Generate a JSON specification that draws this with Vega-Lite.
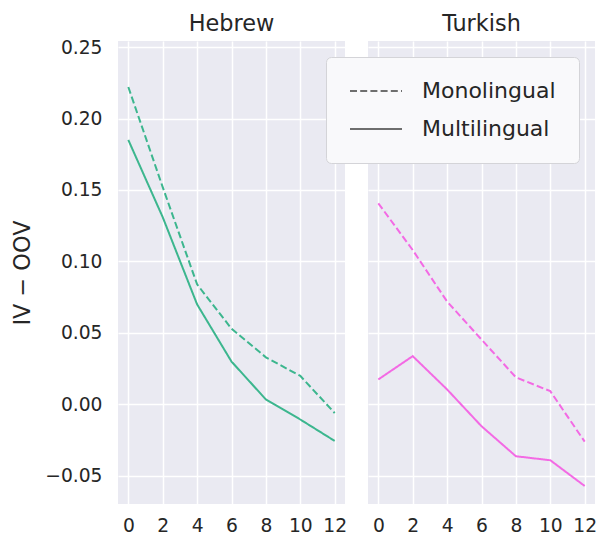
{
  "$schema": "https://vega.github.io/schema/vega-lite/v6.json",
  "padding": {"left": 11, "top": 12, "right": 2, "bottom": 5},
  "data": {"values": [
    {"lang": "Hebrew", "model": "Monolingual", "step": 0, "v": 0.222},
    {"lang": "Hebrew", "model": "Monolingual", "step": 2, "v": 0.152},
    {"lang": "Hebrew", "model": "Monolingual", "step": 4, "v": 0.084},
    {"lang": "Hebrew", "model": "Monolingual", "step": 6, "v": 0.053},
    {"lang": "Hebrew", "model": "Monolingual", "step": 8, "v": 0.033},
    {"lang": "Hebrew", "model": "Monolingual", "step": 10, "v": 0.020},
    {"lang": "Hebrew", "model": "Monolingual", "step": 12, "v": -0.006},
    {"lang": "Hebrew", "model": "Multilingual", "step": 0, "v": 0.185},
    {"lang": "Hebrew", "model": "Multilingual", "step": 2, "v": 0.131},
    {"lang": "Hebrew", "model": "Multilingual", "step": 4, "v": 0.070},
    {"lang": "Hebrew", "model": "Multilingual", "step": 6, "v": 0.030},
    {"lang": "Hebrew", "model": "Multilingual", "step": 8, "v": 0.0035},
    {"lang": "Hebrew", "model": "Multilingual", "step": 10, "v": -0.0105},
    {"lang": "Hebrew", "model": "Multilingual", "step": 12, "v": -0.0255},
    {"lang": "Turkish", "model": "Monolingual", "step": 0, "v": 0.1407},
    {"lang": "Turkish", "model": "Monolingual", "step": 2, "v": 0.108},
    {"lang": "Turkish", "model": "Monolingual", "step": 4, "v": 0.072},
    {"lang": "Turkish", "model": "Monolingual", "step": 6, "v": 0.0454},
    {"lang": "Turkish", "model": "Monolingual", "step": 8, "v": 0.019},
    {"lang": "Turkish", "model": "Monolingual", "step": 10, "v": 0.0093},
    {"lang": "Turkish", "model": "Monolingual", "step": 12, "v": -0.026},
    {"lang": "Turkish", "model": "Multilingual", "step": 0, "v": 0.0175},
    {"lang": "Turkish", "model": "Multilingual", "step": 2, "v": 0.0338},
    {"lang": "Turkish", "model": "Multilingual", "step": 4, "v": 0.0105},
    {"lang": "Turkish", "model": "Multilingual", "step": 6, "v": -0.0152},
    {"lang": "Turkish", "model": "Multilingual", "step": 8, "v": -0.0362},
    {"lang": "Turkish", "model": "Multilingual", "step": 10, "v": -0.039},
    {"lang": "Turkish", "model": "Multilingual", "step": 12, "v": -0.057}
  ]},
  "facet": {
    "column": {
      "field": "lang", "type": "nominal", "sort": ["Hebrew", "Turkish"],
      "header": {"title": null, "labelFont": "DejaVu Sans", "labelFontSize": 22.4, "labelColor": "#262626", "labelPadding": 6}
    }
  },
  "spacing": 23,
  "spec": {
    "width": 227,
    "height": 463,
    "mark": {"type": "line", "strokeWidth": 2},
    "encoding": {
      "x": {
        "field": "step", "type": "quantitative",
        "scale": {"domain": [-0.6, 12.6], "nice": false, "zero": false},
        "axis": {"values": [0, 2, 4, 6, 8, 10, 12], "title": null, "labelPadding": 12}
      },
      "y": {
        "field": "v", "type": "quantitative",
        "scale": {"domain": [-0.0696, 0.2542], "nice": false, "zero": false},
        "axis": {"values": [-0.05, 0, 0.05, 0.1, 0.15, 0.2, 0.25], "format": ".2f", "title": "IV − OOV", "titlePadding": 10}
      },
      "color": {
        "field": "lang", "type": "nominal",
        "scale": {"domain": ["Hebrew", "Turkish"], "range": ["#3cb68e", "#f36ae4"]},
        "legend": null
      },
      "strokeDash": {
        "field": "model", "type": "nominal",
        "scale": {"domain": ["Monolingual", "Multilingual"], "range": [[7, 3.2], [1, 0]]},
        "legend": {
          "orient": "none", "legendX": 208, "legendY": 16, "title": null,
          "symbolType": "M-1,0L4.2,0", "symbolSize": 400, "symbolStrokeWidth": 1.5, "symbolStrokeColor": "#404040",
          "labelFont": "DejaVu Sans", "labelFontSize": 22, "labelColor": "#262626", "labelOffset": 51,
          "rowPadding": 16, "padding": 23, "fillColor": "#f9f9fb", "strokeColor": "#d4d4d8", "cornerRadius": 5
        }
      }
    }
  },
  "config": {
    "view": {"fill": "#eaeaf2", "stroke": null},
    "axis": {
      "grid": true, "gridColor": "#ffffff", "gridWidth": 1.5, "domain": false, "ticks": false,
      "labelFont": "DejaVu Sans", "labelFontSize": 18.7, "labelColor": "#262626", "labelPadding": 16,
      "titleFont": "DejaVu Sans", "titleFontSize": 22.4, "titleFontWeight": "normal", "titleColor": "#262626", "titlePadding": 14
    }
  }
}
